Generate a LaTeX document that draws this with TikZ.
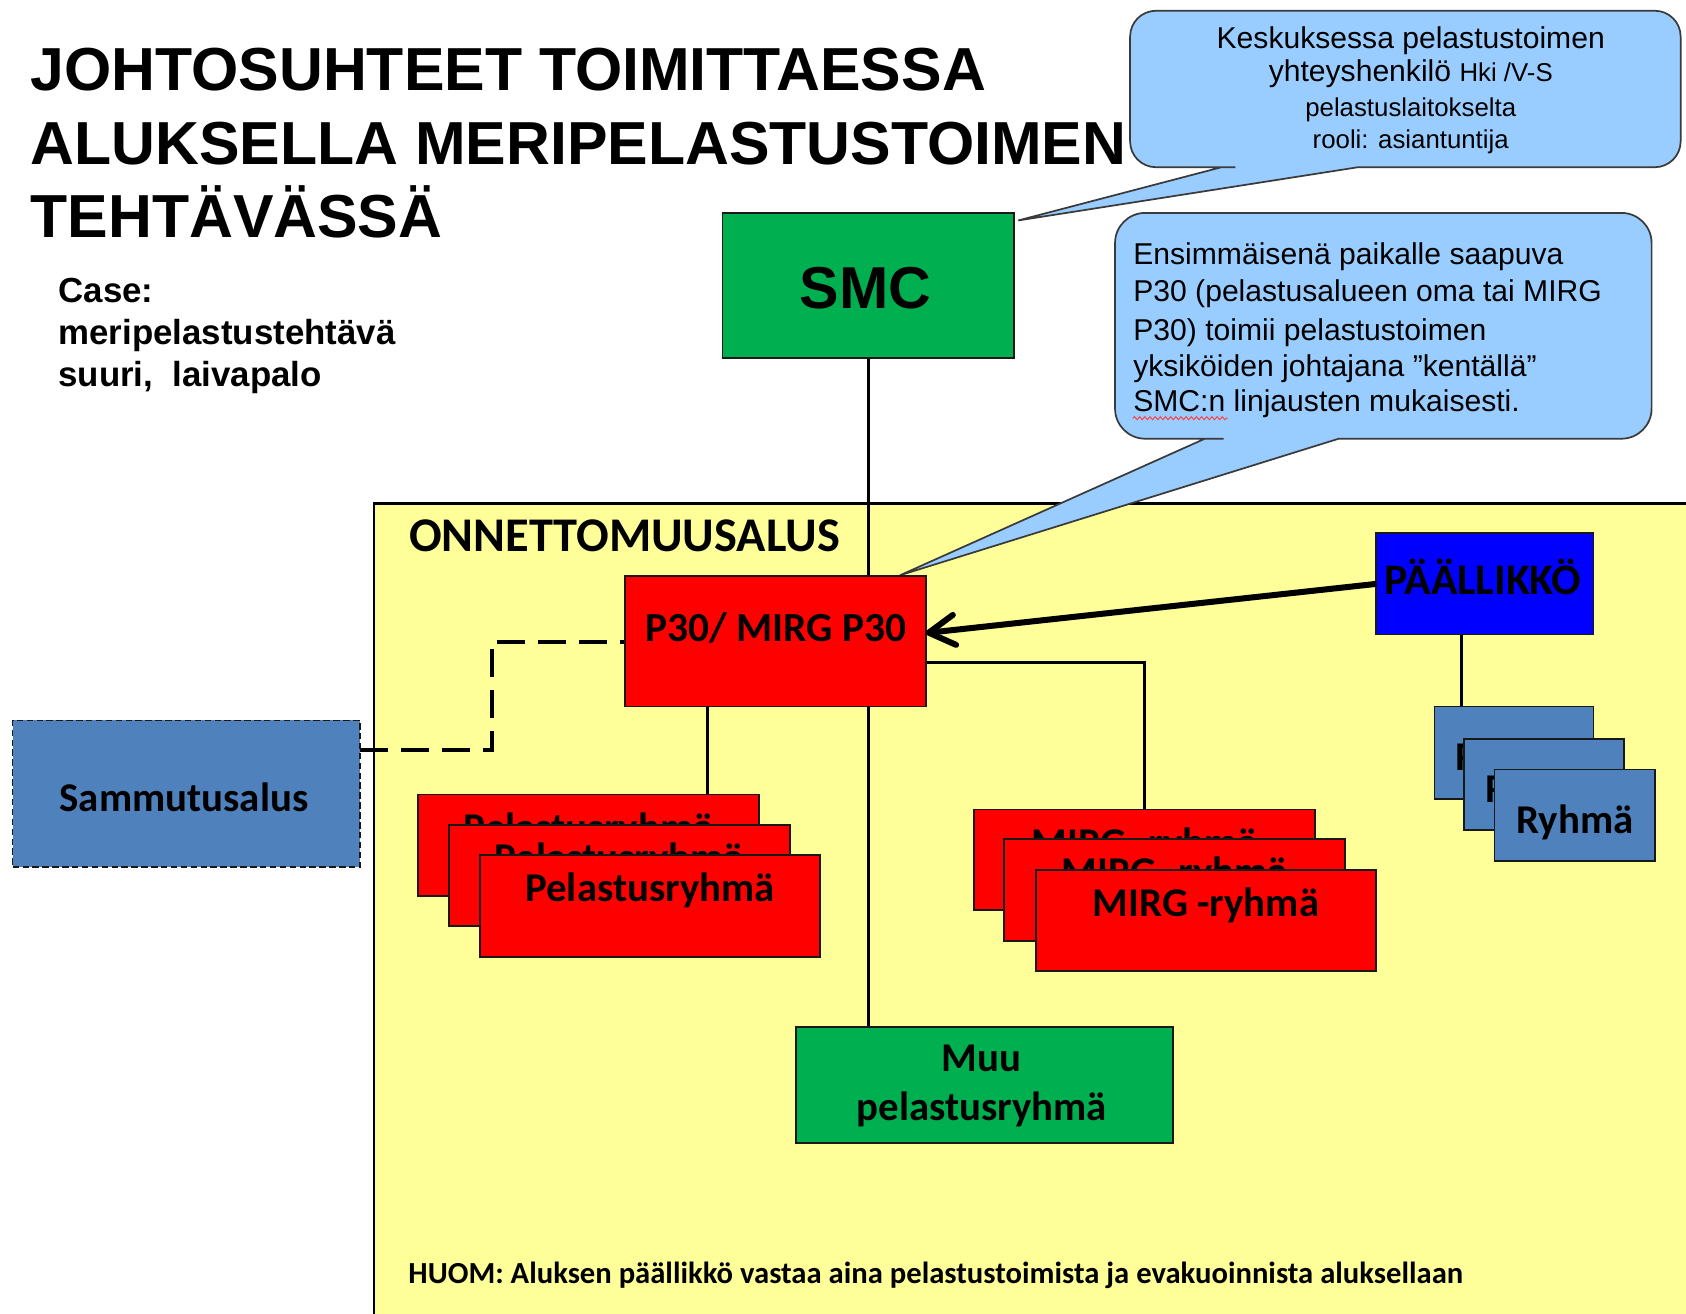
\documentclass[tikz,border=0pt]{standalone}
\usepackage{fontspec}
\setmainfont{Liberation Sans}
\newfontfamily\calfont{Carlito}
\usetikzlibrary{arrows.meta,calc,decorations.pathmorphing}
\pgfdeclarelayer{bg}
\pgfdeclarelayer{mid}
\pgfsetlayers{bg,mid,main}
\definecolor{yel}{HTML}{FFFF99}
\definecolor{cal}{HTML}{99CCFF}
\definecolor{grn}{HTML}{00B050}
\definecolor{stb}{HTML}{4F81BD}
\definecolor{blu}{HTML}{0000FF}
\definecolor{rd}{HTML}{FF0000}
\definecolor{edge}{HTML}{3A3A3A}
\begin{document}
\begin{tikzpicture}[x=0.5pt,y=-0.5pt,
  box/.style={draw=black!90, line width=0.8pt, inner sep=0pt, outer sep=0pt},
  sz/.style 2 args={minimum width=#1*0.5pt, minimum height=#2*0.5pt},
  ctext/.style={inner sep=0pt, anchor=base, font=\calfont\bfseries\fontsize{19}{23}\selectfont},
  conn/.style={draw=black, line width=1.2pt},
  dconn/.style={draw=black, line width=1.5pt, dash pattern=on 13pt off 6pt},
  bigarrow/.style={draw=black, line width=2.8pt, -{Straight Barb[length=12pt,width=14pt,round]}},
  callout/.style={fill=cal, draw=edge, line width=0.8pt},
  ttl/.style={inner sep=0pt, anchor=base west, font=\bfseries\fontsize{28.25}{34}\selectfont},
  casetxt/.style={inner sep=0pt, anchor=base west, font=\bfseries\fontsize{16.2}{19}\selectfont},
  cbig/.style={inner sep=0pt, anchor=base, font=\fontsize{14}{17}\selectfont},
  csmall/.style={inner sep=0pt, anchor=base, font=\fontsize{12}{14}\selectfont},
  cleft/.style={inner sep=0pt, anchor=base west, font=\fontsize{14}{17}\selectfont}
]
\useasboundingbox (0,0) rectangle (1568,1222);

% ---------- background: ship area and callouts ----------
\begin{pgfonlayer}{bg}
\fill[yel] (348,468) rectangle (1568,1222);
\draw[black, line width=1.2pt] (348,1222) -- (348,468) -- (1570,468);
% callout 1
\path[callout] (1136,155.5) -- (947,205) -- (1263,155.5) -- (1270,155.5)
  [rounded corners=12pt] -- (1563,155.5) -- (1563,10) -- (1051,10) -- (1051,155.5) -- (1125,155.5)
  [sharp corners] -- cycle;
% callout 2
\path[callout] (1120.5,408) -- (837,535) -- (1245,408) -- (1252,408)
  [rounded corners=14pt] -- (1536,408) -- (1536,198) -- (1037,198) -- (1037,408) -- (1110,408)
  [sharp corners] -- cycle;
\end{pgfonlayer}

% ---------- title and case ----------
\node[ttl] (t1) at (28,83.7) {JOHTOSUHTEET TOIMITTAESSA};
\node[ttl] (t2) at (28,152.8) {ALUKSELLA MERIPELASTUSTOIMEN};
\node[ttl] (t3) at (28,220.7) {TEHTÄVÄSSÄ};
\node[casetxt] (k1) at (54,281.5) {Case:};
\node[casetxt] (k2) at (54,320.2) {meripelastustehtävä};
\node[casetxt] (k3) at (54,359.6) {suuri,\ \ laivapalo};

% ---------- callout texts ----------
\node[cbig] (c1a) at (1312,45) {Keskuksessa pelastustoimen};
\node[cbig] (c1b) at (1312,76) {yhteyshenkilö\ {\fontsize{12}{14}\selectfont Hki /V-S}};
\node[csmall] (c1c) at (1312,108.5) {pelastuslaitokselta};
\node[csmall] (c1d) at (1312,138) {rooli: asiantuntija};

\node[cleft] (c2a) at (1053.6,246.4) {Ensimmäisenä paikalle saapuva};
\node[cleft] (c2b) at (1053.6,280.5) {P30 (pelastusalueen oma tai MIRG};
\node[cleft] (c2c) at (1053.6,316.2) {P30) toimii pelastustoimen};
\node[cleft] (c2d) at (1053.6,350.3) {yksiköiden johtajana ”kentällä”};
\node[cleft] (c2e) at (1053.6,382.9) {SMC:n linjausten mukaisesti.};
\draw[red!75!white, line width=0.45pt, decorate,
      decoration={snake, amplitude=0.7pt, segment length=2.4pt}]
  (c2e.base west) ++(0,6) coordinate (sq1) -- ++(88,0) coordinate (sq2);

% ---------- main nodes ----------
\node[box, fill=grn, sz={271}{135}] (smc) at (807.5,265.5) {};
\node[inner sep=0pt, anchor=base, font=\bfseries\fontsize{27.5}{33}\selectfont] (smct) at (805,286.8) {SMC};

\node[inner sep=0pt, anchor=base west, font=\calfont\bfseries\fontsize{22.5}{27}\selectfont] (shipt) at (380,513) {ONNETTOMUUSALUS};

\node[box, fill=rd, sz={280}{121}] (p30) at (721,596.5) {};
\node[ctext, font=\calfont\bfseries\fontsize{19.25}{23}\selectfont] (p30t) at (721.5,596.7) {P30/ MIRG P30};

\node[box, fill=blu, sz={202}{94}] (paal) at (1381,543) {};
\node[ctext, font=\calfont\bfseries\fontsize{20.3}{24}\selectfont] (paalt) at (1379,553.3) {PÄÄLLIKKÖ};

\node[box, fill=stb, sz={148}{86}] (ryh1) at (1408,700) {};
\node[ctext] (ryh1t) at ($(ryh1.center)+(0,17)$) {Ryhmä};
\node[box, fill=stb, sz={148.5}{85}] (ryh2) at (1436,729.5) {};
\node[ctext] (ryh2t) at ($(ryh2.center)+(0,17)$) {Ryhmä};
\node[box, fill=stb, sz={149}{85}] (ryh3) at (1464.5,758) {};
\node[ctext] (ryh3t) at ($(ryh3.center)+(0,17)$) {Ryhmä};

\node[box, fill=rd, sz={317}{94.5}] (pel1) at (547.5,786) {};
\node[ctext] (pel1t) at ($(pel1.north)+(0,43.5)$) {Pelastusryhmä};
\node[box, fill=rd, sz={317}{94}] (pel2) at (576,814) {};
\node[ctext] (pel2t) at ($(pel2.north)+(0,43.5)$) {Pelastusryhmä};
\node[box, fill=rd, sz={316.5}{94.5}] (pel3) at (604.6,842.5) {};
\node[ctext] (pel3t) at ($(pel3.north)+(0,43.5)$) {Pelastusryhmä};

\node[box, fill=rd, sz={317}{93.6}] (mirg1) at (1064.5,799.5) {};
\node[ctext] (mirg1t) at ($(mirg1.north)+(0,43.5)$) {MIRG -ryhmä};
\node[box, fill=rd, sz={317}{94.5}] (mirg2) at (1092.5,827.7) {};
\node[ctext] (mirg2t) at ($(mirg2.north)+(0,43.5)$) {MIRG -ryhmä};
\node[box, fill=rd, sz={316}{94}] (mirg3) at (1121.7,856) {};
\node[ctext] (mirg3t) at ($(mirg3.north)+(0,43.5)$) {MIRG -ryhmä};

\node[box, fill=grn, sz={351}{107.7}] (muu) at (915.5,1008.8) {};
\node[ctext] (muut1) at (913,996.6) {Muu};
\node[ctext] (muut2) at (913,1041.6) {pelastusryhmä};

\node[box, fill=stb, sz={323.3}{136}, dash pattern=on 3pt off 1.6pt] (sam) at (173.4,738) {};
\node[ctext] (samt) at (171,754.8) {Sammutusalus};

\node[inner sep=0pt, anchor=base west, font=\calfont\bfseries\fontsize{14.25}{17}\selectfont] (huom) at (379.5,1193.5)
  {HUOM: Aluksen päällikkö vastaa aina pelastustoimista ja evakuoinnista aluksellaan};

% ---------- connectors ----------
\coordinate (dbend) at (457.5,597);
\begin{pgfonlayer}{mid}
\draw[conn] (smc.south) -- (smc.south |- p30.north);
\draw[conn] (smc.south |- p30.south) -- (smc.south |- muu.north);
\draw[conn] ([xshift=-31.5pt]p30.south) -- ([xshift=-31.5pt]p30.south |- pel1.north);
\draw[conn] ([yshift=-9.75pt]p30.east) -| (mirg1.north);
\draw[conn] ([xshift=-11pt]paal.south) -- ([xshift=-11pt]paal.south |- ryh1.north);
\draw[dconn] ([yshift=20.25pt]sam.east) -| (dbend) -- (dbend -| p30.west);
\end{pgfonlayer}
\draw[bigarrow] (paal.west) -- ([yshift=3.9pt]p30.east);
\end{tikzpicture}
\end{document}
